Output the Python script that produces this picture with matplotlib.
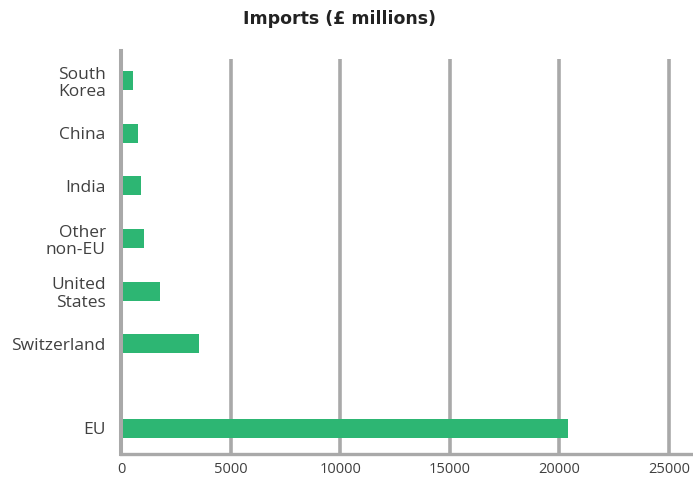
import matplotlib
matplotlib.use("Agg")
import matplotlib.pyplot as plt
import numpy as np

categories = ["South\nKorea", "China", "India", "Other\nnon-EU", "United\nStates", "Switzerland", "EU"]
imports = [550, 780, 910, 1050, 1780, 3560, 20400]
x_ticks = [0, 5000, 10000, 15000, 20000, 25000]
title = "Imports (£ millions)"

plt.rcParams['font.family'] = ['Open Sans', 'DejaVu Sans']

W, H = 693, 482
fig = plt.figure(figsize=(W / 100, H / 100), dpi=100)
left_px, right_px, top_px, bottom_px = 121, 693, 51, 454
ax = fig.add_axes([left_px / W, 1 - bottom_px / H, (right_px - left_px) / W, (bottom_px - top_px) / H])

# slot positions: uniform slots, extra gap before the last (EU) bar
pos = np.arange(len(categories), dtype=float)
pos[-1] += 0.6

green = "#2db673"
grey = "#a9a9a9"
text_col = "#404040"

ax.barh(pos, imports, height=0.36, color=green, zorder=3)

ax.set_xlim(0, 25000 * (right_px - left_px) / (669 - left_px))
ax.set_ylim(7.09, -0.56)

# vertical gridlines (slightly shorter than the left spine)
grid_top = (bottom_px - 59) / (bottom_px - top_px)
ax.vlines(x_ticks[1:], 0, grid_top, transform=ax.get_xaxis_transform(),
          colors=grey, linewidth=2.6, zorder=1)

for s in ["top", "right"]:
    ax.spines[s].set_visible(False)
ax.spines["left"].set_color(grey)
ax.spines["left"].set_linewidth(2.9)
ax.spines["left"].set_zorder(4)
ax.spines["bottom"].set_color(grey)
ax.spines["bottom"].set_linewidth(2.4)
ax.spines["bottom"].set_zorder(4)

ax.set_xticks(x_ticks)
ax.set_xticklabels([str(t) for t in x_ticks])
ax.set_yticks(pos)
ax.set_yticklabels(categories, linespacing=1.15)
ax.tick_params(axis="x", length=0, pad=6, labelsize=10.5, labelcolor=text_col)
ax.tick_params(axis="y", length=0, pad=11, labelsize=12.5, labelcolor=text_col)
for lab in ax.get_yticklabels():
    lab.set_horizontalalignment("right")

fig.text(0.49, 1 - 19 / H, title, ha="center", va="center",
         fontsize=12.5, fontweight="bold", color="#222222", family="DejaVu Sans")

fig.savefig("out.png", dpi=100)
